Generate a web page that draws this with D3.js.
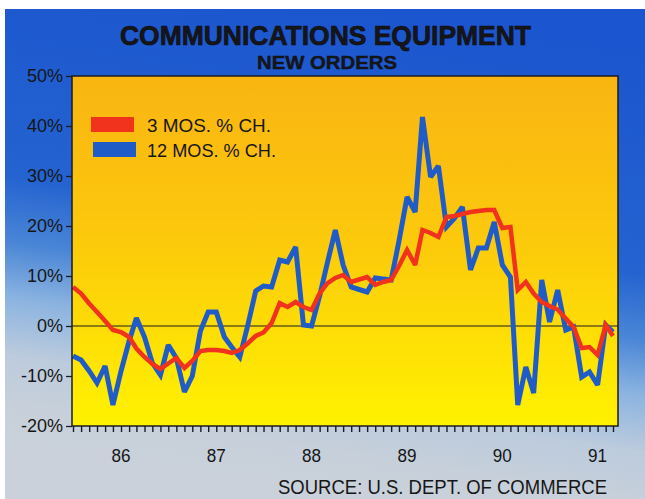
<!DOCTYPE html>
<html>
<head>
<meta charset="utf-8">
<script src="https://cdn.jsdelivr.net/npm/d3@7"></script>
<style>
  html, body { margin: 0; padding: 0; background: #ffffff; }
  svg { display: block; }
  text { font-family: "Liberation Sans", Arial, Helvetica, sans-serif; fill: #161616; }
</style>
</head>
<body>
<svg id="chart" width="645" height="499"></svg>
<script>
// Monthly observations, July 1985 through March 1991
const months = d3.timeMonth.range(new Date(1985, 6, 1), new Date(1991, 3, 1));

// 3-month percent change in new orders
const threeMonthChange = [
  7.8, 6.5, 4.5, 2.8, 1, -0.8, -1.2, -2.2, -4.5, -6.2,
  -7.6, -8.6, -7.5, -6.4, -8.4, -7, -5, -4.8, -4.8, -5,
  -5.4, -4.8, -3.5, -2, -1.3, 0.6, 4.6, 3.8, 4.8, 3.8,
  3.2, 6.5, 8.5, 9.6, 10.2, 8.8, 9.3, 9.8, 8.2, 8.8,
  9.2, 12, 15.2, 12.2, 19.2, 18.6, 17.8, 21.8, 22, 22.4,
  22.8, 23, 23.2, 23.2, 19.6, 19.8, 7.2, 8.8, 6.5, 4.8,
  4, 3.3, 1.5, -0.2, -4.4, -4.2, -5.8, 0.2, -2
];

// 12-month percent change in new orders
const twelveMonthChange = [
  -6, -6.8, -9, -11.4, -8, -15.8, -9, -3, 1.6, -2.2,
  -7.4, -9.8, -3.8, -6.4, -13.2, -10, -1, 2.8, 2.8, -2.2,
  -4.2, -6.2, 0, 7, 8, 7.8, 13.2, 12.8, 15.8, 0.2,
  0, 6, 12.5, 19.2, 12.2, 7.8, 7.3, 6.8, 9.6, 9.4,
  9.2, 17, 25.8, 22.8, 41.8, 29.8, 32, 19.8, 21.5, 23.8,
  11.2, 15.6, 15.6, 20.8, 12.2, 9.8, -15.8, -8.2, -13.4, 9.2,
  0.8, 7.2, -0.8, -0.2, -10.2, -9.2, -11.8, 0.2, -1.2
];

const yTickValues = [50, 40, 30, 20, 10, 0, -10, -20];
const yearLabels = ["86", "87", "88", "89", "90", "91"];
const seriesNames = ["3 MOS. % CH.", "12 MOS. % CH."];
const seriesColors = ["#f1321d", "#1f5cc8"];

const titleText = "COMMUNICATIONS EQUIPMENT";
const subtitleText = "NEW ORDERS";
const sourceText = "SOURCE: U.S. DEPT. OF COMMERCE";

// ---- layout ----
const W = 645, H = 499;
const plot = { left: 72, right: 618, top: 76, bottom: 426 };

const svg = d3.select("#chart");
const defs = svg.append("defs");

// backdrop: royal blue at the top fading to pale grey-blue near the bottom,
// tilted so the left side lightens sooner than the right
const bg = defs.append("linearGradient").attr("id", "bgGrad")
  .attr("gradientUnits", "userSpaceOnUse")
  .attr("x1", 360).attr("y1", 0).attr("x2", 283).attr("y2", 499);
[[0, "#1b55cf"], [0.45, "#2463d0"], [0.58, "#4a86d6"], [0.69, "#8cb4e0"],
 [0.8, "#bccbdd"], [0.9, "#c7d0da"], [1, "#cad1da"]]
  .forEach(([o, c]) => bg.append("stop").attr("offset", o).attr("stop-color", c));

// plot panel: amber at the top to bright yellow at the bottom
const pg = defs.append("linearGradient").attr("id", "plotGrad")
  .attr("x1", 0).attr("y1", 0).attr("x2", 0).attr("y2", 1);
[[0, "#f9b512"], [0.45, "#fcc80c"], [1, "#fff200"]]
  .forEach(([o, c]) => pg.append("stop").attr("offset", o).attr("stop-color", c));

svg.append("rect").attr("x", 5).attr("y", 9).attr("width", W - 5).attr("height", H - 9)
  .attr("fill", "url(#bgGrad)");

// ---- scales ----
const x = d3.scaleTime()
  .domain([months[0], months[months.length - 1]])
  .range([73, 613]);
const y = d3.scaleLinear().domain([-20, 50]).range([plot.bottom, plot.top]);

// plot panel
svg.append("rect")
  .attr("x", plot.left).attr("y", plot.top)
  .attr("width", plot.right - plot.left).attr("height", plot.bottom - plot.top)
  .attr("fill", "url(#plotGrad)");

// zero line
svg.append("line")
  .attr("x1", plot.left).attr("x2", plot.right)
  .attr("y1", y(0)).attr("y2", y(0))
  .attr("stroke", "#1a1a1a").attr("stroke-width", 1.2);

// ---- series lines ----
const line = d3.line()
  .x((d, i) => x(months[i]))
  .y(d => y(d));

svg.append("path").datum(twelveMonthChange)
  .attr("d", line)
  .attr("fill", "none")
  .attr("stroke", seriesColors[1])
  .attr("stroke-width", 5)
  .attr("stroke-linejoin", "miter")
  .attr("stroke-miterlimit", 2.5);

svg.append("path").datum(threeMonthChange)
  .attr("d", line)
  .attr("fill", "none")
  .attr("stroke", seriesColors[0])
  .attr("stroke-width", 4.5)
  .attr("stroke-linejoin", "miter")
  .attr("stroke-miterlimit", 2.5);

// frame around the panel
svg.append("rect")
  .attr("x", plot.left).attr("y", plot.top)
  .attr("width", plot.right - plot.left).attr("height", plot.bottom - plot.top)
  .attr("fill", "none").attr("stroke", "#1b1b22").attr("stroke-width", 1.5);

// ---- y axis ----
const yAxis = d3.axisLeft(y).tickValues(yTickValues).tickSize(6)
  .tickFormat(d => d + "%");
const yg = svg.append("g").attr("transform", `translate(${plot.left},0)`).call(yAxis);
yg.select(".domain").remove();
yg.selectAll(".tick line").attr("stroke", "#1b1b22").attr("stroke-width", 1.3);
yg.selectAll(".tick text")
  .attr("x", -9)
  .style("font-size", "18px")
  .style("font-family", "'Liberation Sans', Arial, sans-serif")
  .attr("fill", "#161616");

// ---- x axis: monthly ticks, year labels ----
const tickMonths = d3.timeMonth.range(x.invert(plot.left), x.invert(plot.right + 1));
const xAxis = d3.axisBottom(x).tickValues(tickMonths).tickSize(6).tickFormat("");
const xg = svg.append("g").attr("transform", `translate(0,${plot.bottom})`).call(xAxis);
xg.select(".domain").remove();
xg.selectAll(".tick line").attr("stroke", "#1b1b22").attr("stroke-width", 1.4);

svg.append("g").selectAll("text").data(yearLabels).join("text")
  .attr("transform", d => `translate(${x(new Date(1900 + (+d), 0, 1))},462) scale(0.9,1)`)
  .attr("text-anchor", "middle")
  .style("font-size", "19px")
  .text(d => d);

// ---- titles ----
svg.append("text")
  .attr("x", 325.5).attr("y", 45)
  .attr("text-anchor", "middle")
  .attr("textLength", 411).attr("lengthAdjust", "spacingAndGlyphs")
  .style("font-size", "27px").style("font-weight", "bold")
  .attr("fill", "#0d0d14")
  .attr("stroke", "#0d0d14").attr("stroke-width", 0.7)
  .text(titleText);

svg.append("text")
  .attr("x", 327).attr("y", 69)
  .attr("text-anchor", "middle")
  .attr("textLength", 140).attr("lengthAdjust", "spacingAndGlyphs")
  .style("font-size", "19px").style("font-weight", "bold")
  .attr("fill", "#0d0d14")
  .attr("stroke", "#0d0d14").attr("stroke-width", 0.4)
  .text(subtitleText);

svg.append("text")
  .attr("x", 607).attr("y", 494)
  .attr("text-anchor", "end")
  .attr("textLength", 329).attr("lengthAdjust", "spacingAndGlyphs")
  .style("font-size", "20px")
  .text(sourceText);

// ---- legend ----
const legend = svg.append("g");
const legendRows = [
  { name: seriesNames[0], color: seriesColors[0], sx: 91, sy: 117, tw: 124, ty: 132 },
  { name: seriesNames[1], color: seriesColors[1], sx: 93, sy: 142, tw: 129, ty: 157 }
];
legendRows.forEach(r => {
  legend.append("rect").attr("x", r.sx).attr("y", r.sy).attr("width", 43).attr("height", 15)
    .attr("fill", r.color);
  legend.append("text").attr("x", 147).attr("y", r.ty)
    .attr("textLength", r.tw).attr("lengthAdjust", "spacingAndGlyphs")
    .style("font-size", "18px")
    .text(r.name);
});
</script>
</body>
</html>
